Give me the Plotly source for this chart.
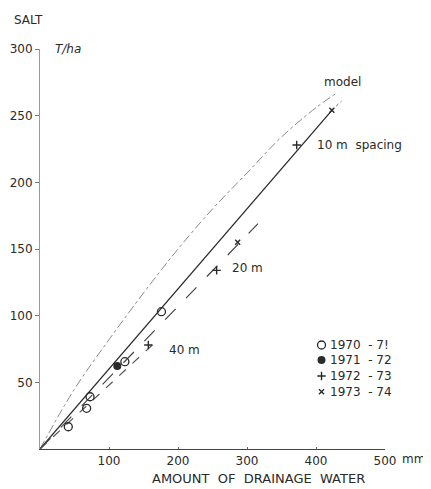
import plotly.graph_objects as go

# ---- data ----
model_x = [0, 50, 100, 150, 200, 250, 300, 350, 400, 430]
model_y = [0, 45, 82, 117, 150, 180, 207, 234, 256, 267]

ten_x = [0, 423]
ten_y = [0, 254]
ten_ext_x = [423, 437]
ten_ext_y = [254, 261]

twenty_x = [0, 316]
twenty_y = [0, 169]

forty_x = [0, 167]
forty_y = [0, 80]

obs_1970_x = [41, 67.6, 72.5, 123, 176]
obs_1970_y = [16.7, 30.5, 39.2, 65.5, 103]
obs_1971_x = [112]
obs_1971_y = [62.3]
obs_1972_x = [372, 256, 157]
obs_1972_y = [228, 134, 78]
obs_1973_x = [423, 286.5]
obs_1973_y = [254, 155]

key_labels = ["1970\u00a0\u00a0- 7!", "1971\u00a0\u00a0- 72", "1972\u00a0\u00a0- 73", "1973\u00a0\u00a0- 74"]
x_ticks = [100, 200, 300, 400, 500]
y_ticks = [50, 100, 150, 200, 250, 300]

INK = "#2a2a2a"
FONT = "DejaVu Sans"

fig = go.Figure()

fig.add_trace(go.Scatter(x=model_x, y=model_y, mode="lines", line_shape="spline",
                         line=dict(color="#8a8a8a", width=1, dash="dashdot")))
fig.add_trace(go.Scatter(x=ten_x, y=ten_y, mode="lines",
                         line=dict(color=INK, width=1.3)))
fig.add_trace(go.Scatter(x=ten_ext_x, y=ten_ext_y, mode="lines",
                         line=dict(color="#666", width=1, dash="dot")))
fig.add_trace(go.Scatter(x=twenty_x, y=twenty_y, mode="lines",
                         line=dict(color="#444", width=1.2, dash="longdash")))
fig.add_trace(go.Scatter(x=forty_x, y=forty_y, mode="lines",
                         line=dict(color="#555", width=1.2, dash="dash")))

open_m = dict(symbol="circle-open", size=8, color=INK, line=dict(width=1.3, color=INK))
fill_m = dict(symbol="circle", size=8, color=INK)
plus_m = dict(symbol="cross-thin", size=6, line=dict(width=1.4, color=INK))
x_m = dict(symbol="x-thin", size=5, line=dict(width=1.4, color=INK))

fig.add_trace(go.Scatter(x=obs_1970_x, y=obs_1970_y, mode="markers", marker=open_m))
fig.add_trace(go.Scatter(x=obs_1971_x, y=obs_1971_y, mode="markers", marker=fill_m))
fig.add_trace(go.Scatter(x=obs_1972_x, y=obs_1972_y, mode="markers", marker=plus_m))
fig.add_trace(go.Scatter(x=obs_1973_x, y=obs_1973_y, mode="markers", marker=x_m))

# legend key (drawn as markers + text inside the plot)
key_x = 408
key_y = [78, 66.7, 54.7, 43]
for ky, m, lab in zip(key_y, [open_m, fill_m, plus_m, x_m], key_labels):
    fig.add_trace(go.Scatter(x=[key_x], y=[ky], mode="markers", marker=m, cliponaxis=False))
    fig.add_annotation(x=key_x + 10, y=ky, text=lab, showarrow=False, xanchor="left",
                       yanchor="middle", font=dict(size=12, color=INK, family=FONT))

ann = [
    dict(x=408, y=275.5, text="model"),
    dict(x=398, y=228, text="10 m  spacing"),
    dict(x=275, y=135.8, text="20 m"),
    dict(x=184, y=74.3, text="40 m"),
    dict(x=19, y=300, text="<i>T/ha</i>"),
]
for a in ann:
    fig.add_annotation(x=a["x"], y=a["y"], text=a["text"], showarrow=False,
                       xanchor="left", yanchor="middle",
                       font=dict(size=12, color=INK, family=FONT))

fig.add_annotation(xref="paper", yref="paper", x=-0.081, y=1.0725, text="SALT",
                   showarrow=False, xanchor="left", yanchor="middle",
                   font=dict(size=12, color=INK, family=FONT))
fig.add_annotation(xref="paper", yref="paper", x=1.043, y=-0.025, text="mm",
                   showarrow=False, xanchor="left", yanchor="middle",
                   font=dict(size=12, color=INK, family=FONT))
fig.add_annotation(xref="paper", yref="paper", x=0.632, y=-0.0725,
                   text="AMOUNT\u00a0\u00a0OF\u00a0\u00a0DRAINAGE\u00a0\u00a0WATER",
                   showarrow=False, xanchor="center", yanchor="middle",
                   font=dict(size=13, color=INK, family=FONT))

# page body has an 8px margin, so the figure is offset by 8px in the window
fig.update_layout(
    width=423, height=481,
    margin=dict(l=32, r=46, t=41, b=40),
    paper_bgcolor="white", plot_bgcolor="white",
    showlegend=False,
    font=dict(family=FONT, size=12, color=INK),
    xaxis=dict(range=[0, 500], tickvals=x_ticks, showgrid=False, zeroline=False,
               showline=True, linecolor="#444", linewidth=1.2,
               ticks="inside", ticklen=2, tickcolor="#666", automargin=False),
    yaxis=dict(range=[0, 300], tickvals=y_ticks, showgrid=False, zeroline=False,
               showline=True, linecolor="#9a9a9a", linewidth=1,
               ticks="outside", ticklen=4, tickcolor="#777", automargin=False),
)

fig.write_html("out.html")
